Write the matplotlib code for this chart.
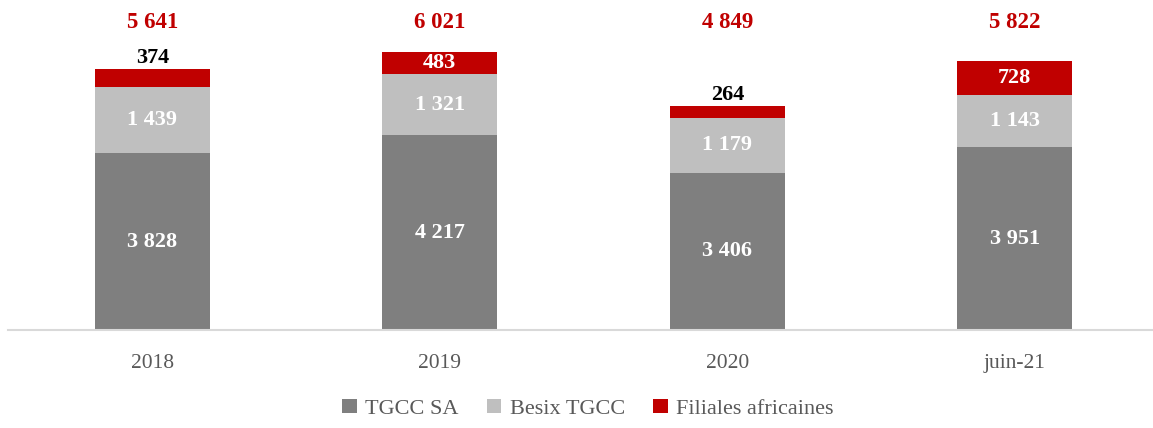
import matplotlib
matplotlib.use("Agg")
import matplotlib.pyplot as plt
import numpy as np

categories = ["2018", "2019", "2020", "juin-21"]
tgcc_sa = [3828, 4217, 3406, 3951]
besix_tgcc = [1439, 1321, 1179, 1143]
filiales = [374, 483, 264, 728]
totals = [5641, 6021, 4849, 5822]
series_names = ["TGCC SA", "Besix TGCC", "Filiales africaines"]

colors = ["#7f7f7f", "#bfbfbf", "#c00000"]
red = "#c00000"

plt.rcParams['font.family'] = ['Liberation Serif', 'DejaVu Serif']

def fmt(v):
    return f"{v:,}".replace(",", " ")

fig = plt.figure(figsize=(11.53, 4.28), dpi=100)
ax = fig.add_axes([0.007, 0.229, 0.993, 0.734])

x = np.arange(len(categories))
w = 0.4
bottoms = np.zeros(len(categories))
for vals, col, name in zip([tgcc_sa, besix_tgcc, filiales], colors, series_names):
    ax.bar(x, vals, w, bottom=bottoms, color=col, label=name, zorder=2)
    for xi, b, v in zip(x, bottoms, vals):
        if v < 400:
            ax.text(xi, b + v + 20, fmt(v), ha="center", va="bottom",
                    fontsize=16, fontweight="bold", color="black")
        else:
            ax.text(xi, b + v / 2, fmt(v), ha="center", va="center",
                    fontsize=16, fontweight="bold", color="white")
    bottoms = bottoms + np.array(vals)

for xi, t in zip(x, totals):
    ax.text(xi, 6660, fmt(t), ha="center", va="center", fontsize=16.5,
            fontweight="bold", color=red, clip_on=False)

ax.set_xlim(-0.502, 3.481)
ax.set_ylim(0, 6800)
ax.set_xticks(x)
ax.set_xticklabels(categories, fontsize=15.5, color="#595959")
ax.tick_params(axis="x", length=0, pad=17)
ax.set_yticks([])
for s in ["top", "right", "left"]:
    ax.spines[s].set_visible(False)
ax.spines["bottom"].set_color("#d9d9d9")
ax.spines["bottom"].set_linewidth(1.5)

leg = fig.legend(loc="center", bbox_to_anchor=(0.51, 0.045), ncol=3, frameon=False,
                 fontsize=16, handlelength=0.65, handleheight=0.65, handletextpad=0.4,
                 columnspacing=1.25)
for t in leg.get_texts():
    t.set_color("#595959")

fig.savefig("out.png", dpi=100)
